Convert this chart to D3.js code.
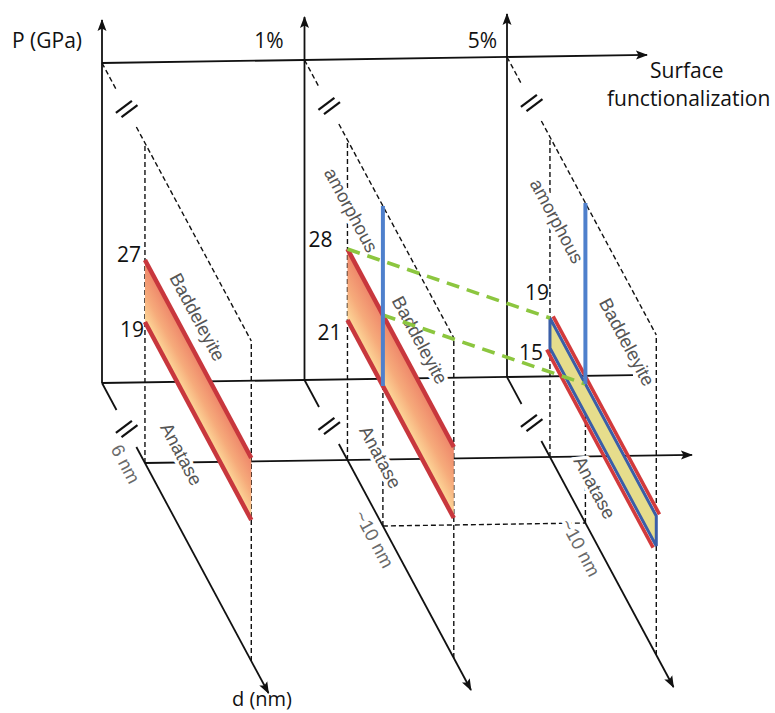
<!DOCTYPE html>
<html>
<head>
<meta charset="utf-8">
<script src="https://cdn.jsdelivr.net/npm/d3@7"></script>
<style>
  html, body { margin: 0; padding: 0; background: #fff; }
  svg { display: block; }
</style>
</head>
<body>
<div id="chart"></div>
<script>
// ---- data ---------------------------------------------------------------
// Surface functionalization levels, one P–d plane each
const functionalization = ["0%", "1%", "5%"];
const functionalizationLabels = ["", "1%", "5%"];
// Anatase -> baddeleyite transition pressure range (GPa)
const transitionLow = [19, 21, 15];
const transitionHigh = [27, 28, 19];
// Pressure where the amorphous boundary starts at d = 10 nm (GPa)
const amorphousOnset = [null, 21, 19];
const amorphousSize = 10;            // nm
// Particle size span of the transition bands (nm)
const bandSize = [6, 18];
// Size labels on the d axes
const sizeLabels = ["6 nm", "~10 nm", "~10 nm"];
// Phase region names
const phaseAmorphous = "amorphous";
const phaseHigh = "Baddeleyite";
const phaseLow = "Anatase";

// ---- layout -------------------------------------------------------------
const W = 775, H = 713;
const X0 = 102, Y0 = 383;            // origin of the first plane (P = 0, start of d)
const SKEW = 0.537;                  // oblique depth: screen x per unit of depth
const TILT = -6 / 405;               // slight rise of the functionalization axis
const PLANE_TOP = 320;               // height of each P–d plane
const AXIS_TOP = 363;                // P axis arrow height
const BREAK_S = 46, BREAK_GAP = [27, 64];
const D_AXIS_END = 310;

const uScale = d3.scalePoint().domain(functionalization).range([0, 405]);
const sScale = d3.scaleLinear().domain([6, 10]).range([80, 146]);
// pressure scale of each plane (schematic, own range per plane)
const pRanges = [[141, 203], [140, 211], [109, 139]];
const pScales = functionalization.map((f, i) =>
  d3.scaleLinear().domain([transitionLow[i], transitionHigh[i]]).range(pRanges[i]));

// oblique projection: u along functionalization, s along d, h along P
function P3(u, s, h) {
  return [X0 + u + SKEW * s, Y0 + TILT * u + s - h];
}

// rotated label positions (u from panel, s depth, h height)
const phaseLabelPos = [
  { hi: [178, 244], lo: [148, 77], size: [44, -37] },
  { am: [87, 257], hi: [215, 255], lo: [141.5, 64.5], size: [130, -29] },
  { am: [93, 249], hi: [223.5, 258.5], lo: [163.5, 53], size: [137, -33.5] }
];
// value label offsets from the band's start: [dx, dy] for high, low
const valueLabelOffsets = [
  [[-4, 2], [-1, 15]],
  [[-15, -2], [-6, 20]],
  [[-1, -18], [-7, 12]]
];
const ANGLE = Math.atan2(1, SKEW) * 180 / Math.PI;

// ---- drawing ------------------------------------------------------------
const svg = d3.select("#chart").append("svg")
  .attr("width", W).attr("height", H)
  .attr("viewBox", `0 0 ${W} ${H}`);
const defs = svg.append("defs");

defs.append("marker")
  .attr("id", "arrow")
  .attr("viewBox", "0 0 12 10")
  .attr("refX", 11).attr("refY", 5)
  .attr("markerWidth", 12).attr("markerHeight", 10)
  .attr("markerUnits", "userSpaceOnUse")
  .attr("orient", "auto")
  .append("path")
  .attr("d", "M0,0.5 L12,5 L0,9.5 L2.5,5 Z")
  .attr("fill", "#111");

const line = d3.line();
const axes = svg.append("g").attr("fill", "none").attr("stroke", "#111")
  .attr("stroke-width", 1.8);
const dashed = svg.append("g").attr("fill", "none").attr("stroke", "#111")
  .attr("stroke-width", 1.4).attr("stroke-dasharray", "5,3");

const s6 = sScale(bandSize[0]);
const sEnd = sScale(bandSize[1]);
const s10 = sScale(amorphousSize);

// functionalization axes
axes.append("path").attr("d", line([P3(0, 0, PLANE_TOP), P3(545, 0, PLANE_TOP)]))
  .attr("marker-end", "url(#arrow)");
axes.append("path").attr("d", line([P3(0, 0, 0), P3(531, 0, 0)]));
axes.append("path").attr("d", line([P3(0, s6, 0), P3(547, s6, 0)]))
  .attr("marker-end", "url(#arrow)");

// axis-break mark "//"
function breakMark(c) {
  const dir = [0.8, -0.6], off = [2.8, 2.2], L = 10;
  [-1, 1].forEach(k => {
    const cx = c[0] + k * off[0], cy = c[1] + k * off[1];
    axes.append("path")
      .attr("d", line([[cx - dir[0] * L, cy - dir[1] * L], [cx + dir[0] * L, cy + dir[1] * L]]))
      .attr("stroke-width", 2.2);
  });
}

functionalization.forEach((f, i) => {
  const u = uScale(f);
  // P axis
  axes.append("path").attr("d", line([P3(u, 0, 0), P3(u, 0, AXIS_TOP)]))
    .attr("marker-end", "url(#arrow)");
  // d axis with break
  axes.append("path").attr("d", line([P3(u, 0, 0), P3(u, BREAK_GAP[0], 0)]));
  axes.append("path").attr("d", line([P3(u, BREAK_GAP[1], 0), P3(u, D_AXIS_END, 0)]))
    .attr("marker-end", "url(#arrow)");
  breakMark(P3(u, BREAK_S, 0));
  // top edge of the plane with break
  dashed.append("path").attr("d", line([P3(u, 0, PLANE_TOP), P3(u, BREAK_GAP[0], PLANE_TOP)]));
  dashed.append("path").attr("d", line([P3(u, BREAK_GAP[1], PLANE_TOP), P3(u, sEnd, PLANE_TOP)]));
  breakMark(P3(u, BREAK_S, PLANE_TOP));
  // plane verticals
  dashed.append("path").attr("d", line([P3(u, s6, 0), P3(u, s6, PLANE_TOP)]));
  dashed.append("path").attr("d", line([P3(u, sEnd, 0), P3(u, sEnd, PLANE_TOP)]));
  if (amorphousOnset[i] !== null) {
    dashed.append("path").attr("d", line([P3(u, s10, 0), P3(u, s10, PLANE_TOP)]));
  }
});
// d = 10 nm guide between the functionalized planes
dashed.append("path").attr("d", line([P3(uScale("1%"), s10, 0), P3(uScale("5%"), s10, 0)]));

// ---- rotated region labels ----
const labels = svg.append("g")
  .attr("font-family", "'Liberation Sans', Arial, sans-serif")
  .attr("font-size", 18.5)
  .attr("text-anchor", "middle")
  .attr("dominant-baseline", "central")
  .attr("stroke", "#fff").attr("stroke-width", 7)
  .attr("paint-order", "stroke")
  .attr("stroke-linejoin", "round");

function rotLabel(u, pos, text, fill) {
  const p = P3(u, pos[0], pos[1]);
  labels.append("text")
    .attr("transform", `translate(${p[0]},${p[1]}) rotate(${ANGLE})`)
    .attr("fill", fill)
    .text(text);
}
functionalization.forEach((f, i) => {
  const u = uScale(f), pos = phaseLabelPos[i];
  if (pos.am) rotLabel(u, pos.am, phaseAmorphous, "#555");
  rotLabel(u, pos.hi, phaseHigh, "#555");
  rotLabel(u, pos.lo, phaseLow, "#555");
  rotLabel(u, pos.size, sizeLabels[i], "#6a6a6a");
});

// ---- transition bands ----
const bands = svg.append("g");
const perp = [-0.881, 0.473];      // from the upper edge towards the lower edge
functionalization.forEach((f, i) => {
  const u = uScale(f), ps = pScales[i];
  const hHi = ps(transitionHigh[i]), hLo = ps(transitionLow[i]);
  const poly = [P3(u, s6, hHi), P3(u, sEnd, hHi), P3(u, sEnd, hLo), P3(u, s6, hLo)];
  const topEdge = [P3(u, s6, hHi), P3(u, sEnd, hHi)];
  const botEdge = [P3(u, s6, hLo), P3(u, sEnd, hLo)];
  if (i < 2) {
    const mid = P3(u, (s6 + sEnd) / 2, hHi);
    const dist = (hHi - hLo) * 0.473;
    const grad = defs.append("linearGradient")
      .attr("id", "bandGrad" + i)
      .attr("gradientUnits", "userSpaceOnUse")
      .attr("x1", mid[0]).attr("y1", mid[1])
      .attr("x2", mid[0] + perp[0] * dist).attr("y2", mid[1] + perp[1] * dist);
    grad.append("stop").attr("offset", "0%").attr("stop-color", "#ee8569");
    grad.append("stop").attr("offset", "55%").attr("stop-color", "#f6ab7b");
    grad.append("stop").attr("offset", "100%").attr("stop-color", "#fdd99a");
    bands.append("path").attr("d", line(poly) + "Z").attr("fill", `url(#bandGrad${i})`);
    [topEdge, botEdge].forEach(e =>
      bands.append("path").attr("d", line(e)).attr("stroke", "#c8373d")
        .attr("stroke-width", 4.5).attr("fill", "none"));
  } else {
    bands.append("path").attr("d", line(poly) + "Z")
      .attr("fill", "#e6dd8c").attr("stroke", "#3a5ea8").attr("stroke-width", 3)
      .attr("stroke-linejoin", "miter");
    const o = 3.6;
    const shift = (e, k) => e.map(p => [p[0] - perp[0] * o * k, p[1] - perp[1] * o * k]);
    [shift(topEdge, 1), shift(botEdge, -1)].forEach(e =>
      bands.append("path").attr("d", line(e)).attr("stroke", "#d23a3c")
        .attr("stroke-width", 3.6).attr("fill", "none"));
  }
});

// ---- links between the 1% and 5% transition onsets ----
const links = svg.append("g").attr("fill", "none").attr("stroke", "#8cc63f")
  .attr("stroke-width", 3.6).attr("stroke-dasharray", "13,8");
[s6, s10].forEach(s => {
  links.append("path").attr("d", line([
    P3(uScale("1%"), s, pScales[1](transitionHigh[1])),
    P3(uScale("5%"), s, pScales[2](transitionHigh[2]))
  ]));
});

// ---- amorphous boundaries at d = 10 nm ----
functionalization.forEach((f, i) => {
  if (amorphousOnset[i] === null) return;
  const u = uScale(f);
  svg.append("path")
    .attr("d", line([P3(u, s10, pScales[i](amorphousOnset[i])), P3(u, s10, PLANE_TOP)]))
    .attr("stroke", "#4f80cc").attr("stroke-width", 4).attr("fill", "none");
});

// ---- pressure values ----
const values = svg.append("g")
  .attr("font-family", "'Open Sans', sans-serif")
  .attr("font-size", 21).attr("fill", "#111").attr("text-anchor", "end");
functionalization.forEach((f, i) => {
  const u = uScale(f), ps = pScales[i];
  [[transitionHigh[i], valueLabelOffsets[i][0]], [transitionLow[i], valueLabelOffsets[i][1]]]
    .forEach(([v, off]) => {
      const p = P3(u, s6, ps(v));
      values.append("text").attr("x", p[0] + off[0]).attr("y", p[1] + off[1]).text(v);
    });
});

// ---- axis titles ----
const titles = svg.append("g")
  .attr("font-family", "'Open Sans', sans-serif")
  .attr("font-size", 21).attr("fill", "#111");
titles.append("text").attr("x", 12).attr("y", 48).text("P (GPa)");
const pctOffsets = [0, -21, -10];
functionalization.forEach((f, i) => {
  if (!functionalizationLabels[i]) return;
  const p = P3(uScale(f), 0, PLANE_TOP);
  titles.append("text").attr("x", p[0] + pctOffsets[i]).attr("y", 48)
    .attr("text-anchor", "end").text(functionalizationLabels[i]);
});
titles.append("text").attr("x", 650).attr("y", 78).text("Surface");
titles.append("text").attr("x", 607).attr("y", 106).text("functionalization");
titles.append("text").attr("x", 232).attr("y", 706).attr("font-size", 20).text("d (nm)");
</script>
</body>
</html>
